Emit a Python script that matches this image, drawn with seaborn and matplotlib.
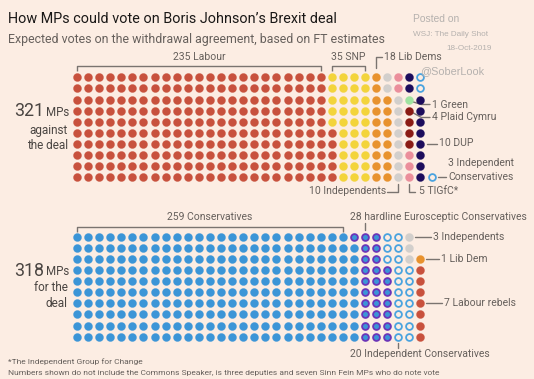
import matplotlib
matplotlib.use("Agg")
import matplotlib.pyplot as plt
import seaborn as sns
import pandas as pd
import numpy as np

# ---------------- data ----------------
against_parties = ["Labour", "SNP", "Lib Dems", "Independents", "TIGfC",
                   "Plaid Cymru", "Green", "DUP", "Independent Conservatives"]
against_counts = [235, 35, 18, 10, 5, 4, 1, 10, 3]

for_parties = ["Conservatives", "Hardline Eurosceptic Conservatives",
               "Independent Conservatives", "Independents", "Labour rebels", "Lib Dem"]
for_counts = [259, 28, 20, 3, 7, 1]

against_total = 321
for_total = 318

# ---------------- styles ----------------
BG = "#fcede3"
styles = {
    "Labour": dict(fc="#c8513d", ec="#c8513d"),
    "SNP": dict(fc="#f3d43b", ec="#f3d43b"),
    "Lib Dems": dict(fc="#e8922e", ec="#e8922e"),
    "Independents": dict(fc="#d2cfcc", ec="#d2cfcc"),
    "TIGfC": dict(fc="#eb8e9b", ec="#eb8e9b"),
    "Plaid Cymru": dict(fc="#8a1b15", ec="#8a1b15"),
    "Green": dict(fc="#9fe3a0", ec="#9fe3a0"),
    "DUP": dict(fc="#1c0c5c", ec="#1c0c5c"),
    "Independent Conservatives": dict(fc=BG, ec="#4aa3df", ring=True),
    "Conservatives": dict(fc="#3b95d7", ec="#3b95d7"),
    "Hardline Eurosceptic Conservatives": dict(fc="#3b95d7", ec="#6b35b8", ring=True),
    "Lib Dem": dict(fc="#e8922e", ec="#e8922e"),
    "Labour rebels": dict(fc="#c8513d", ec="#c8513d"),
}

# ---------------- layout ----------------
X0, DX, DY = 77.0, 11.08, 11.11
TOP_BOTTOM_ROW_Y = 177.3
BOT_BOTTOM_ROW_Y = 336.7


def build(parties, counts, bottom_y):
    rows = []
    i = 0
    for p, c in zip(parties, counts):
        for _ in range(c):
            col, r = divmod(i, 10)
            rows.append(dict(party=p, x=X0 + col * DX, y=bottom_y - r * DY))
            i += 1
    return pd.DataFrame(rows)


def colx(c):
    return X0 + c * DX


df_against = build(against_parties, against_counts, TOP_BOTTOM_ROW_Y)
df_for = build(for_parties, for_counts, BOT_BOTTOM_ROW_Y)

sns.set_style("white")
plt.rcParams["font.family"] = ["Roboto", "DejaVu Sans"]

fig = plt.figure(figsize=(5.34, 3.79), dpi=100, facecolor=BG)
ax = fig.add_axes([0, 0, 1, 1])
ax.set_facecolor(BG)
ax.set_xlim(0, 534)
ax.set_ylim(379, 0)
ax.axis("off")

for df in (df_against, df_for):
    for p in df["party"].unique():
        sub = df[df["party"] == p]
        st = styles[p]
        if st.get("ring"):
            sns.scatterplot(data=sub, x="x", y="y", ax=ax, s=24, color=st["fc"],
                            edgecolor=st["ec"], linewidth=1.3, legend=False, zorder=3)
        else:
            sns.scatterplot(data=sub, x="x", y="y", ax=ax, s=34, color=st["fc"],
                            edgecolor=st["ec"], linewidth=0.2, legend=False, zorder=3)

DARK = "#33302e"
GREY = "#66605c"
LINE = "#7a7470"
lw = 1.0

# ---------------- title ----------------
ax.text(8, 19, "How MPs could vote on Boris Johnson\u2019s Brexit deal", fontsize=10.4,
        color="#1a1817", va="center", ha="left")
ax.text(8, 40, "Expected votes on the withdrawal agreement, based on FT estimates",
        fontsize=8.9, color=GREY, va="center", ha="left")

# watermark
WM = "#b5b1ae"
ax.text(413, 19, "Posted on", fontsize=7.4, color=WM, family="Liberation Sans", va="center")
ax.text(413, 35, "WSJ: The Daily Shot", fontsize=5.9, color=WM, family="Liberation Sans", va="center")
ax.text(446, 49, "18-Oct-2019", fontsize=5.9, color=WM, family="Liberation Sans", va="center")
ax.text(420, 71, "@SoberLook", fontsize=7.8, color=WM, family="Liberation Sans", va="center")

# ---------------- left labels ----------------
ax.text(14, 111.5, "321", fontsize=12.8, color="#4a4542", va="center", ha="left")
ax.text(46, 112.5, "MPs", fontsize=8.3, color="#4a4542", va="center", ha="left")
ax.text(68, 130.5, "against", fontsize=8.5, color="#4a4542", va="center", ha="right")
ax.text(68, 145.5, "the deal", fontsize=8.5, color="#4a4542", va="center", ha="right")

ax.text(14, 270.5, "318", fontsize=12.8, color="#4a4542", va="center", ha="left")
ax.text(46, 271.5, "MPs", fontsize=8.3, color="#4a4542", va="center", ha="left")
ax.text(68, 287.5, "for the", fontsize=8.5, color="#4a4542", va="center", ha="right")
ax.text(68, 303.5, "deal", fontsize=8.5, color="#4a4542", va="center", ha="right")

FS = 7.5


def bracket(c0, c1, y, label, ly):
    x0, x1 = colx(c0), colx(c1)
    ax.plot([x0, x0, x1, x1], [y + 5, y, y, y + 5], color=LINE, lw=lw, solid_capstyle="butt")
    ax.text((x0 + x1) / 2, ly, label, fontsize=FS, color=GREY, ha="center", va="center")


# top brackets
bracket(0, 22, 66, "235 Labour", 57)
bracket(23, 26, 66, "35 SNP", 57)
ax.plot([colx(27), colx(27), colx(27) + 6], [68, 57, 57], color=LINE, lw=lw)
ax.text(colx(27) + 8, 57, "18 Lib Dems", fontsize=FS, color=GREY, va="center")

# right annotations top
ax.plot([colx(30) + 4, colx(30) + 12, 430], [102, 104.5, 104.5], color=LINE, lw=lw)
ax.text(432, 104.5, "1 Green", fontsize=FS, color=GREY, va="center")
ax.plot([colx(30) + 4, colx(30) + 12, 430], [113, 117.5, 117.5], color=LINE, lw=lw)
ax.text(432, 117.5, "4 Plaid Cymru", fontsize=FS, color=GREY, va="center")
ax.plot([colx(31) + 7, 437], [143.5, 143.5], color=LINE, lw=lw)
ax.text(439, 143.5, "10 DUP", fontsize=FS, color=GREY, va="center")
ax.text(448, 163, "3 Independent", fontsize=FS, color=GREY, va="center")
ax.plot([colx(32) + 6, 446], [177, 177], color=LINE, lw=lw)
ax.text(448, 177, "Conservatives", fontsize=FS, color=GREY, va="center")

ax.text(386, 191.5, "10 Independents", fontsize=FS, color=GREY, va="center", ha="right")
ax.plot([387, colx(29), colx(29)], [191.5, 191.5, 184], color=LINE, lw=lw)
ax.plot([colx(30), colx(30), colx(30) + 6], [184, 191.5, 191.5], color=LINE, lw=lw)
ax.text(419, 191.5, "5 TIGfC*", fontsize=FS, color=GREY, va="center")

# bottom brackets
bracket(0, 24, 226.5, "259 Conservatives", 217.5)
ax.plot([colx(26), colx(26)], [223, 230], color=LINE, lw=lw)
ax.text(350.5, 217.5, "28 hardline Eurosceptic Conservatives", fontsize=FS, color=GREY, va="center")

ax.plot([colx(30) + 6, 431], [236.7, 236.7], color=LINE, lw=lw)
ax.text(433, 236.7, "3 Independents", fontsize=FS, color=GREY, va="center")
ax.plot([colx(31) + 6, 439], [259, 259], color=LINE, lw=lw)
ax.text(441, 259, "1 Lib Dem", fontsize=FS, color=GREY, va="center")
ax.plot([colx(31) + 6, 442], [303, 303], color=LINE, lw=lw)
ax.text(444, 303, "7 Labour rebels", fontsize=FS, color=GREY, va="center")
ax.plot([colx(29), colx(29)], [342.5, 347.5], color=LINE, lw=lw)
ax.text(350.5, 354, "20 Independent Conservatives", fontsize=FS, color=GREY, va="center")

# footnotes
ax.text(8, 361.5, "*The Independent Group for Change", fontsize=6.0, color=GREY, va="center")
ax.text(8, 372.5, "Numbers shown do not include the Commons Speaker, is three deputies and seven Sinn Fein MPs who do note vote",
        fontsize=6.0, color=GREY, va="center")

fig.savefig("out.png", dpi=100, facecolor=BG)
